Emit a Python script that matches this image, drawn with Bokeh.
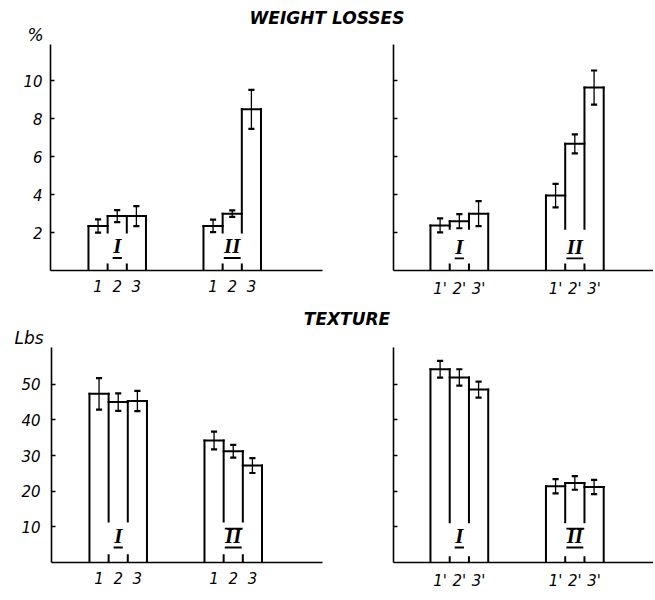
from bokeh.plotting import figure
from bokeh.layouts import column, row
from bokeh.models import FixedTicker
from bokeh.embed import file_html
from bokeh.resources import INLINE
from bokeh.core.properties import value

# ---------------- data ----------------
weight_title = "WEIGHT LOSSES"
texture_title = "TEXTURE"
weight_unit = "%"
texture_unit = "Lbs"
group_names = ["I", "II"]
bar_positions = [1, 2, 3, 7, 8, 9]
x_labels_left = ["1", "2", "3", "1", "2", "3"]
x_labels_right = ["1'", "2'", "3'", "1'", "2'", "3'"]
weight_ticks = [2, 4, 6, 8, 10]
texture_ticks = [10, 20, 30, 40, 50]

weight_left = [2.35, 2.87, 2.87, 2.35, 3.0, 8.5]
weight_left_err = [0.35, 0.32, 0.53, 0.33, 0.17, 1.03]
weight_right = [2.38, 2.6, 3.0, 3.95, 6.68, 9.65]
weight_right_err = [0.37, 0.37, 0.66, 0.62, 0.5, 0.9]
texture_left = [47.3, 45.0, 45.3, 34.2, 31.2, 27.2]
texture_left_err = [4.4, 2.45, 2.85, 2.5, 1.8, 2.1]
texture_right = [54.2, 51.9, 48.5, 21.4, 22.3, 21.2]
texture_right_err = [2.35, 2.3, 2.25, 2.0, 1.9, 2.0]

# ---------------- styling ----------------
TICK_FONT = "DejaVu Sans"
TOTAL_W = 653
LEFT_W, RIGHT_W = 330, 323


def make_panel(vals, errs, xlabels, yticks, ymax, width, height,
               b_left, b_right, b_top, b_bottom, x_start, ppu,
               show_ylabels, gap, stub, label_y, uline_y, overline_y,
               ystand):
    frame_w = width - b_left - b_right
    x_end = x_start + frame_w / ppu
    p = figure(width=width, height=height, x_range=(x_start, x_end),
               y_range=(0, ymax), toolbar_location=None,
               output_backend="svg", min_border_left=b_left,
               min_border_right=b_right, min_border_top=b_top,
               min_border_bottom=b_bottom)
    p.outline_line_color = None
    p.grid.visible = False
    p.background_fill_color = "white"

    # axes
    for ax in (p.xaxis[0], p.yaxis[0]):
        ax.axis_line_width = 1.6
        ax.axis_line_color = "black"
        ax.major_label_text_font = TICK_FONT
        ax.major_label_text_font_style = "italic"
        ax.major_label_text_font_size = "15px"
        ax.major_label_text_color = "black"
        ax.minor_tick_line_color = None
    p.xaxis.ticker = FixedTicker(ticks=bar_positions)
    p.xaxis.major_label_overrides = {pp: lab for pp, lab in zip(bar_positions, xlabels)}
    p.xaxis.major_tick_line_color = None
    p.xaxis.major_label_standoff = 3
    p.yaxis.ticker = FixedTicker(ticks=yticks)
    p.yaxis.major_tick_in = 4
    p.yaxis.major_tick_out = 0
    p.yaxis.major_tick_line_width = 1.5
    p.yaxis.major_tick_line_color = "black"
    p.yaxis.major_label_standoff = ystand
    if not show_ylabels:
        p.yaxis.major_label_text_color = None

    # bar outlines
    x0, y0, x1, y1 = [], [], [], []

    def add(a, b, c, d):
        x0.append(a); y0.append(b); x1.append(c); y1.append(d)

    for g in range(0, len(bar_positions), 3):
        ps = bar_positions[g:g + 3]
        vs = vals[g:g + 3]
        for pi, vi in zip(ps, vs):
            add(pi - 0.5, vi, pi + 0.5, vi)
        add(ps[0] - 0.5, 0, ps[0] - 0.5, vs[0])
        add(ps[-1] + 0.5, 0, ps[-1] + 0.5, vs[-1])
        for i in range(2):
            xd = ps[i] + 0.5
            add(xd, gap, xd, max(vs[i], vs[i + 1]))
            add(xd, 0, xd, stub)
    p.segment(x0=x0, y0=y0, x1=x1, y1=y1, line_color="black",
              line_width=2.0, line_cap="square")

    # error bars
    lo = [v - e for v, e in zip(vals, errs)]
    hi = [v + e for v, e in zip(vals, errs)]
    p.segment(x0=bar_positions, y0=lo, x1=bar_positions, y1=hi,
              line_color="black", line_width=1.3)
    cw = 0.16
    p.segment(x0=[q - cw for q in bar_positions] * 2, y0=lo + hi,
              x1=[q + cw for q in bar_positions] * 2, y1=lo + hi,
              line_color="black", line_width=2.2)

    # group labels
    centers = [bar_positions[1], bar_positions[4]]
    p.text(x=centers, y=[label_y] * 2, text=group_names,
           text_font=value("Liberation Serif"), text_font_style="bold italic",
           text_font_size="21px", text_align="center",
           text_baseline="middle", text_color="black")
    hw = [0.24 + 0.2 * (len(n) - 1) for n in group_names]
    p.segment(x0=[c - h for c, h in zip(centers, hw)], y0=[uline_y] * 2,
              x1=[c + h for c, h in zip(centers, hw)], y1=[uline_y] * 2,
              line_color="black", line_width=1.8)
    if overline_y is not None:
        p.segment(x0=[centers[1] - hw[1]], y0=[overline_y],
                  x1=[centers[1] + hw[1] + 0.05], y1=[overline_y],
                  line_color="black", line_width=1.6)
    return p


def strip(height, texts, xs, ys, sizes, styles):
    t = figure(width=TOTAL_W, height=height, x_range=(0, TOTAL_W),
               y_range=(0, height), x_axis_type=None, y_axis_type=None,
               toolbar_location=None, output_backend="svg", min_border=0)
    t.outline_line_color = None
    t.grid.visible = False
    for txt, x, y, s, st in zip(texts, xs, ys, sizes, styles):
        t.text(x=[x], y=[y], text=[txt], text_font=value("DejaVu Sans"),
               text_font_style=st, text_font_size=s,
               text_align="center", text_baseline="middle",
               text_color="black")
    return t


# title strips (y measured from strip bottom)
t1 = strip(44, [weight_title, weight_unit], [326.5, 35], [44 - 17.5, 44 - 34],
           ["17px", "17px"], ["bold italic", "italic"])
t2 = strip(47, [texture_title, texture_unit], [346.5, 28.5], [47 - 18, 47 - 37],
           ["17px", "17px"], ["bold italic", "italic"])

f1 = make_panel(weight_left, weight_left_err, x_labels_left, weight_ticks,
                227 / 19.04, LEFT_W, 256, 50, 8, 0, 29, -1.48, 19.17, True,
                2.0, 0.32, 1.3, 0.66, None, 8)
f2 = make_panel(weight_right, weight_right_err, x_labels_right, weight_ticks,
                227 / 19.04, RIGHT_W, 256, 63, 0, 0, 29, -1.42, 19.25, False,
                2.2, 0.32, 1.25, 0.64, None, 8)
f3 = make_panel(texture_left, texture_left_err, x_labels_left, texture_ticks,
                60.3, LEFT_W, 245, 51, 8, 0, 23, -1.48, 19.17, True,
                11.5, 2.0, 7.3, 4.2, 9.5, 11)
f4 = make_panel(texture_right, texture_right_err, x_labels_right, texture_ticks,
                60.3, RIGHT_W, 245, 63, 0, 0, 23, -1.42, 19.25, False,
                11.3, 1.5, 7.3, 4.2, 9.5, 11)

layout = column(t1, row(f1, f2), t2, row(f3, f4))

open("out.html", "w").write(file_html(layout, INLINE))
